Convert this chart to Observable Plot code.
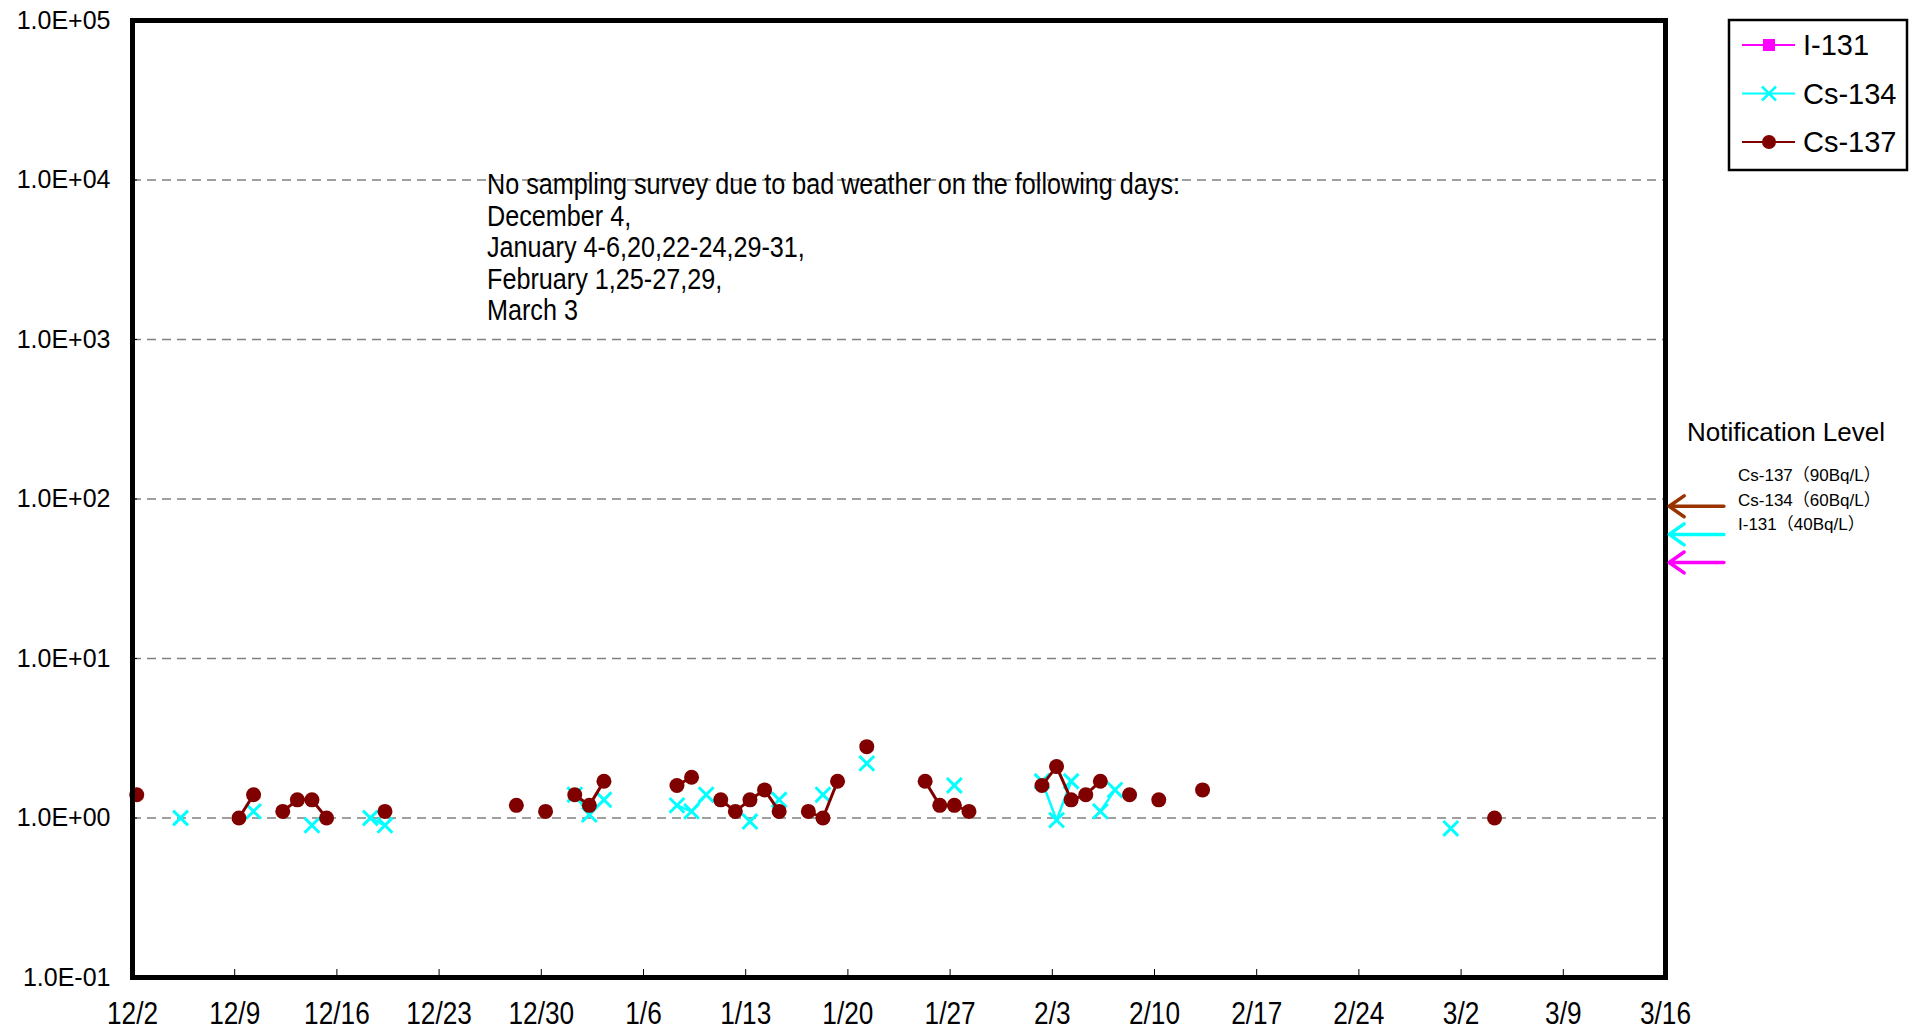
<!DOCTYPE html>
<html><head><meta charset="utf-8">
<script src="https://cdn.jsdelivr.net/npm/d3@7"></script>
<script src="https://cdn.jsdelivr.net/npm/@observablehq/plot@0.6"></script>
<style>html,body{margin:0;padding:0;background:#fff;overflow:hidden}</style>
</head><body><div id="chart"></div>
<script>
// ---- data ----
const seriesNames = ["I-131", "Cs-134", "Cs-137"];
const seriesColors = ["#FF00FF", "#00FFFF", "#800000"];
const seriesSymbols = ["square", "times", "circle"];

const cs134Dates = ["12/5","12/10","12/14","12/18","12/19","1/1","1/2","1/3","1/8","1/9","1/10","1/13","1/15","1/18","1/21","1/27","2/2","2/3","2/4","2/6","2/7","3/1"];
const cs134Values = [1.0,1.1,0.9,1.0,0.9,1.4,1.05,1.3,1.2,1.1,1.4,0.95,1.3,1.4,2.2,1.6,1.7,0.97,1.7,1.1,1.5,0.86];

const cs137Dates = ["12/2","12/9","12/10","12/12","12/13","12/14","12/15","12/19","12/28","12/30","1/1","1/2","1/3","1/8","1/9","1/11","1/12","1/13","1/14","1/15","1/17","1/18","1/19","1/21","1/25","1/26","1/27","1/28","2/2","2/3","2/4","2/5","2/6","2/8","2/10","2/13","3/4"];
const cs137Values = [1.4,1.0,1.4,1.1,1.3,1.3,1.0,1.1,1.2,1.1,1.4,1.2,1.7,1.6,1.8,1.3,1.1,1.3,1.5,1.1,1.1,1.0,1.7,2.8,1.7,1.2,1.2,1.1,1.6,2.1,1.3,1.4,1.7,1.4,1.3,1.5,1.0];

const xTickLabels = ["12/2","12/9","12/16","12/23","12/30","1/6","1/13","1/20","1/27","2/3","2/10","2/17","2/24","3/2","3/9","3/16"];
const yTickValues = [0.1, 1, 10, 100, 1000, 10000, 100000];

const notifyLevels = [90, 60, 40];
const notifyLabels = ["Cs-137（90Bq/L）", "Cs-134（60Bq/L）", "I-131（40Bq/L）"];
const notifyColors = ["#993300", "#00FFFF", "#FF00FF"];
const notifyTitle = "Notification Level";

const noteLines = [
  "No sampling survey due to bad weather on the following days:",
  "December 4,",
  "January 4-6,20,22-24,29-31,",
  "February 1,25-27,29,",
  "March 3"
];

// ---- helpers ----
const SAMPLE_HOUR = 7;
function parseMD(s, hour = 0) {
  const [m, d] = s.split("/").map(Number);
  return new Date(Date.UTC(m === 12 ? 2011 : 2012, m - 1, d, hour));
}
function toRows(dates, values, series) {
  let seg = 0, prev = null;
  return dates.map((s, i) => {
    const date = parseMD(s, SAMPLE_HOUR);
    if (prev && (date - prev) > 1.5 * 864e5) seg++;
    prev = date;
    return {date, value: values[i], series, seg};
  });
}
const cs134 = toRows(cs134Dates, cs134Values, "Cs-134");
const cs137 = toRows(cs137Dates, cs137Values, "Cs-137");

const xTicks = xTickLabels.map(s => parseMD(s));
const xStart = xTicks[0], xEnd = xTicks[xTicks.length - 1];
const arrowFrom = new Date(+xEnd + 4.0 * 864e5);
const arrowTo = new Date(+xEnd + 0.25 * 864e5);

const fmtE = d => {
  const e = Math.round(Math.log10(d));
  return "1.0E" + (e < 0 ? "-" : "+") + String(Math.abs(e)).padStart(2, "0");
};
const SANS = "'Liberation Sans', Arial, sans-serif";
const NARROW_SCALE = 0.82;

const chart = Plot.plot({
  width: 1917, height: 1032,
  marginLeft: 132, marginRight: 252, marginTop: 20, marginBottom: 55,
  style: {fontFamily: SANS, background: "#fff", color: "#000"},
  x: {type: "utc", domain: [xStart, xEnd]},
  y: {type: "log", domain: [0.1, 1e5]},
  marks: [
    Plot.gridY([1, 10, 100, 1000, 10000], {stroke: "#808080", strokeOpacity: 1, strokeWidth: 1.5, strokeDasharray: "9,6"}),
    Plot.axisY(yTickValues, {tickSize: 0, tickPadding: 22, tickFormat: fmtE, fontSize: 25, label: null}),
    Plot.axisY(yTickValues.slice(1, -1), {tickSize: -5, fill: "none", label: null, stroke: "#000"}),
    Plot.axisX(xTicks, {tickSize: -8, fill: "none", label: null, stroke: "#000"}),
    Plot.axisX(xTicks, {tickSize: 0, tickPadding: 24, fontSize: 32, label: null,
      tickFormat: d => `${d.getUTCMonth() + 1}/${d.getUTCDate()}`}),
    Plot.line(cs134, {x: "date", y: "value", z: "seg", stroke: seriesColors[1], strokeWidth: 2.5}),
    Plot.dot(cs134, {x: "date", y: "value", symbol: "times", r: 6.8, stroke: seriesColors[1], strokeWidth: 3}),
    Plot.line(cs137, {x: "date", y: "value", z: "seg", stroke: seriesColors[2], strokeWidth: 3}),
    Plot.dot(cs137, {x: "date", y: "value", r: 7.5, fill: seriesColors[2], stroke: "none"}),
    Plot.frame({stroke: "#000", strokeWidth: 5}),
    ...notifyLevels.map((v, i) => Plot.arrow([v], {x1: () => arrowFrom, x2: () => arrowTo, y1: d => d, y2: d => d,
      stroke: notifyColors[i], strokeWidth: 3.5, headLength: 12, headAngle: 70}))
  ]
});
document.getElementById("chart").appendChild(chart);

const svg = d3.select(chart);

// condense the x tick labels (narrow font look)
svg.selectAll("g[aria-label='x-axis tick label'] text").each(function() {
  const t = this.getAttribute("transform") || "";
  this.setAttribute("transform", t + ` scale(${NARROW_SCALE},1)`);
  const x = this.getAttribute("x");
  if (x !== null) this.setAttribute("x", +x / NARROW_SCALE);
});

// annotation (condensed)
const note = svg.append("text").attr("text-anchor", "start").attr("font-size", 30)
  .attr("fill", "#000").attr("transform", `translate(487,194) scale(0.84,1)`);
noteLines.forEach((line, i) => note.append("tspan").attr("x", 0).attr("y", i * 31.6).text(line));

// ---- legend & notification labels in the right margin ----
const lg = svg.append("g").attr("text-anchor", "start");
lg.append("rect").attr("x", 1729).attr("y", 20).attr("width", 178).attr("height", 150)
  .attr("fill", "#fff").attr("stroke", "#000").attr("stroke-width", 2.5);
seriesNames.forEach((name, i) => {
  const y = 45 + i * 48.5, c = seriesColors[i];
  lg.append("line").attr("x1", 1742).attr("x2", 1795).attr("y1", y).attr("y2", y)
    .attr("stroke", c).attr("stroke-width", 2);
  if (seriesSymbols[i] === "square") {
    lg.append("rect").attr("x", 1763).attr("y", y - 6).attr("width", 12).attr("height", 12).attr("fill", c);
  } else if (seriesSymbols[i] === "times") {
    lg.append("path").attr("d", `M${1769-7},${y-7}L${1769+7},${y+7}M${1769-7},${y+7}L${1769+7},${y-7}`)
      .attr("stroke", c).attr("stroke-width", 2.5);
  } else {
    lg.append("circle").attr("cx", 1769).attr("cy", y).attr("r", 7).attr("fill", c);
  }
  lg.append("text").attr("x", 1803).attr("y", y).attr("dy", "0.36em").attr("font-size", 29)
    .attr("fill", "#000").text(name);
});
const nl = svg.append("g").attr("text-anchor", "start");
nl.append("text").attr("x", 1687).attr("y", 441).attr("font-size", 26).attr("fill", "#000").text(notifyTitle);
notifyLabels.forEach((t, i) => {
  nl.append("text").attr("x", 1738).attr("y", 481 + i * 24.5).attr("font-size", 17)
    .attr("font-family", "'Liberation Sans', 'Noto Sans CJK JP', sans-serif").attr("fill", "#000").text(t);
});
</script>
</body></html>
